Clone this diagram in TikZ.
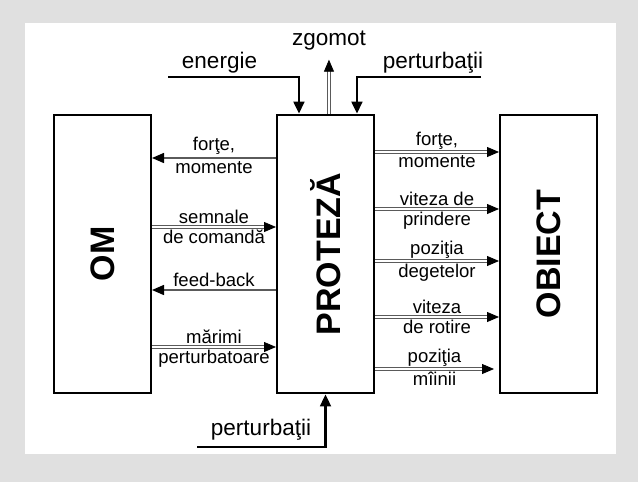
\documentclass[tikz,border=0pt]{standalone}
\usepackage{fontspec}
\setmainfont{Liberation Sans}
\usetikzlibrary{arrows.meta,positioning}
\definecolor{bggray}{HTML}{E0E0E0}
\definecolor{sigray}{HTML}{5A5A5A}
\tikzset{
  block/.style={
    rectangle,
    draw=black,
    line width=1.5pt,
    fill=white,
    minimum width=72.75pt,
    minimum height=209pt,
    inner sep=0pt
  },
  bigtxt/.style={font=\fontsize{25.5}{28}\selectfont\bfseries, rotate=90},
  lbl/.style={font=\fontsize{13.9}{15}\selectfont, inner sep=2pt},
  toplbl/.style={font=\fontsize{16.9}{19}\selectfont, inner sep=0pt},
  sigline/.style={draw=sigray, line width=1.1pt, -{Triangle[length=9pt,width=7.5pt,color=black]}},
  dblline/.style={draw=sigray, line width=0.6pt, double=white, double distance=1.2pt,
    -{Triangle[length=9pt,width=7.5pt,color=black]}},
  heavy/.style={draw=black, line width=2pt, -{Triangle[length=9pt,width=8pt]}}
}

\begin{document}
\begin{tikzpicture}[x=0.75pt, y=-0.75pt, node distance=93pt]
  % background
  \fill[bggray] (0,0) rectangle (638,482);
  \fill[white] (25,23) rectangle (616,454);

  \node[block] (om) at (102.5,254) {};
  \node[block, right=of om] (proteza) {};
  \node[block, right=of proteza] (obiect) {};
  \node[bigtxt] (omtxt) at (om) {OM};
  \node[bigtxt] (protezatxt) at (proteza) {PROTEZĂ};
  \node[bigtxt] (obiecttxt) at (obiect) {OBIECT};

  % om <-> proteza
  \draw[sigline] ([yshift=72pt]proteza.west) -- ([yshift=72pt]om.east)
    node[lbl, midway, above] (fma) {forţe,} node[lbl, midway, below] (fmb) {momente};
  \draw[dblline] ([yshift=20.25pt]om.east) -- ([yshift=20.25pt]proteza.west)
    node[lbl, midway, above] (sca) {semnale} node[lbl, midway, below] (scb) {de comandă};
  \draw[sigline] ([yshift=-27pt]proteza.west) -- ([yshift=-27pt]om.east)
    node[lbl, midway, above] (fb) {feed-back};
  \draw[dblline] ([yshift=-69.75pt]om.east) -- ([yshift=-69.75pt]proteza.west)
    node[lbl, midway, above] (mpa) {mărimi} node[lbl, midway, below] (mpb) {perturbatoare};

  % proteza -> obiect
  \draw[dblline] ([yshift=76.5pt]proteza.east) -- ([yshift=76.5pt]obiect.west)
    node[lbl, midway, above] (ofa) {forţe,} node[lbl, midway, below] (ofb) {momente};
  \draw[dblline] ([yshift=33.75pt]proteza.east) -- ([yshift=33.75pt]obiect.west)
    node[lbl, midway, above] (vpa) {viteza de} node[lbl, midway, below] (vpb) {prindere};
  \draw[dblline] ([yshift=-5.25pt]proteza.east) -- ([yshift=-5.25pt]obiect.west)
    node[lbl, midway, above] (pda) {poziţia} node[lbl, midway, below] (pdb) {degetelor};
  \draw[dblline] ([yshift=-47.25pt]proteza.east) -- ([yshift=-47.25pt]obiect.west)
    node[lbl, midway, above] (vra) {viteza} node[lbl, midway, below] (vrb) {de rotire};
  \draw[dblline] ([yshift=-86.25pt]proteza.east) -- ([xshift=-3.75pt,yshift=-86.25pt]obiect.west)
    node[lbl, midway, above] (pma) {poziţia} node[lbl, midway, below] (pmb) {mîinii};

  % inputs and outputs of the prosthesis
  \coordinate (enstart) at (168,77);
  \coordinate (pstart) at (481,77);
  \coordinate (pbstart) at (197,447);
  \draw[heavy] (enstart) -| ([xshift=-19.9pt]proteza.north);
  \draw[heavy] (pstart) -| ([xshift=23.6pt]proteza.north);
  \draw[dblline] ([xshift=2.6pt]proteza.north) -- ++(0,-54);
  \draw[heavy] (pbstart) -| (proteza.south);
  \node[toplbl] (energie) at (219.5,63) {energie};
  \node[toplbl] (zgomot) at (329,41) {zgomot};
  \node[toplbl] (pert1) at (433,63) {perturbaţii};
  \node[toplbl] (pert2) at (261,430) {perturbaţii};
\end{tikzpicture}
\end{document}
